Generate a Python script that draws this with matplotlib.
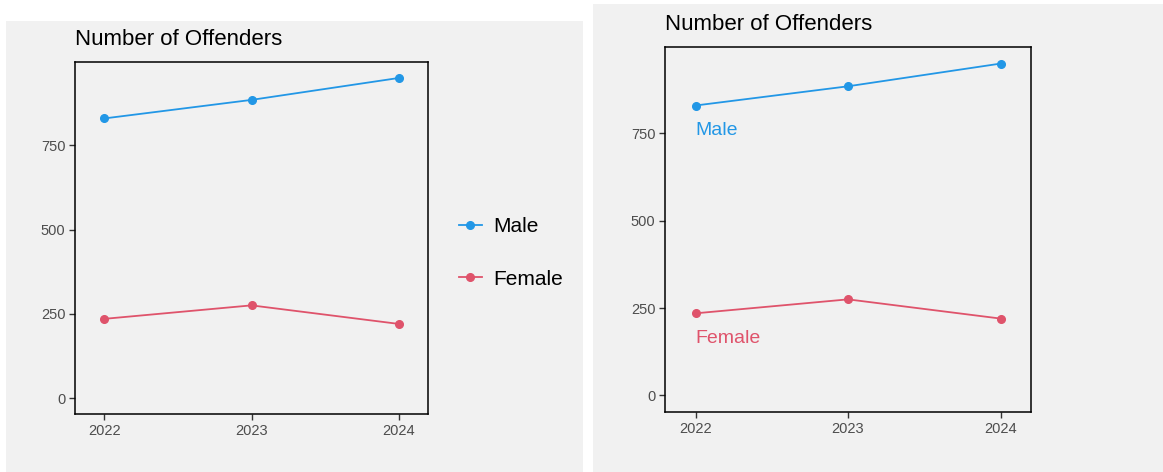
import matplotlib
matplotlib.use("Agg")
import matplotlib.pyplot as plt
from matplotlib.patches import Rectangle

# data
years = [2022, 2023, 2024]
male = [830, 885, 950]
female = [235, 275, 220]
series_names = ["Male", "Female"]
yticks = [0, 250, 500, 750]

blue = "#2297E6"
red = "#DF536B"
bg = "#F1F1F1"

plt.rcParams['font.family'] = ['Liberation Sans', 'DejaVu Sans']

W, H = 1163, 472
fig = plt.figure(figsize=(W / 100, H / 100), dpi=100)
fig.patch.set_facecolor("white")


def px_rect(x0, y0, x1, y1):
    # pixel box (top-left origin) -> figure fraction [l, b, w, h]
    return [x0 / W, 1 - y1 / H, (x1 - x0) / W, (y1 - y0) / H]


# the two grey panels
for box in [(6, 21, 583, 472), (593, 4, 1163, 472)]:
    l, b, w, h = px_rect(*box)
    fig.patches.append(Rectangle((l, b), w, h, transform=fig.transFigure,
                                 facecolor=bg, edgecolor="none", zorder=-5))


def style_axes(ax):
    ax.set_zorder(2)
    ax.set_facecolor(bg)
    ax.set_xlim(2021.8, 2024.2)
    ax.set_ylim(-47.5, 997.5)
    ax.set_xticks(years)
    ax.set_xticklabels([str(y) for y in years])
    ax.set_yticks(yticks)
    for s in ax.spines.values():
        s.set_color("black")
        s.set_linewidth(1.1)
    ax.tick_params(length=4, width=1.0, color="#333333", labelcolor="#4D4D4D",
                   labelsize=10.5, pad=3)
    ax.set_title("Number of Offenders", loc="left", fontsize=16, pad=12)


def draw_lines(ax):
    l1, = ax.plot(years, male, color=blue, lw=1.3, marker="o", ms=5.5,
                  label=series_names[0])
    l2, = ax.plot(years, female, color=red, lw=1.3, marker="o", ms=5.5,
                  label=series_names[1])
    return l1, l2


# left panel with legend
ax1 = fig.add_axes(px_rect(75, 62, 428, 414))
style_axes(ax1)
h1, h2 = draw_lines(ax1)
leg = fig.legend([h1, h2], series_names, loc="center left",
                 bbox_to_anchor=(459 / W, 1 - 253 / H), frameon=False,
                 fontsize=15, handlelength=1.1, handletextpad=0.55,
                 labelspacing=1.6, borderpad=0, borderaxespad=0)
leg.set_zorder(3)

# right panel with direct labels
ax2 = fig.add_axes(px_rect(665, 47, 1031, 412))
style_axes(ax2)
draw_lines(ax2)
ax2.text(years[0], male[0] - 72, "Male", color=blue, fontsize=14,
         ha="left", va="center")
ax2.text(years[0], female[0] - 72, "Female", color=red, fontsize=14,
         ha="left", va="center")

fig.savefig("out.png", dpi=100, facecolor="white")
